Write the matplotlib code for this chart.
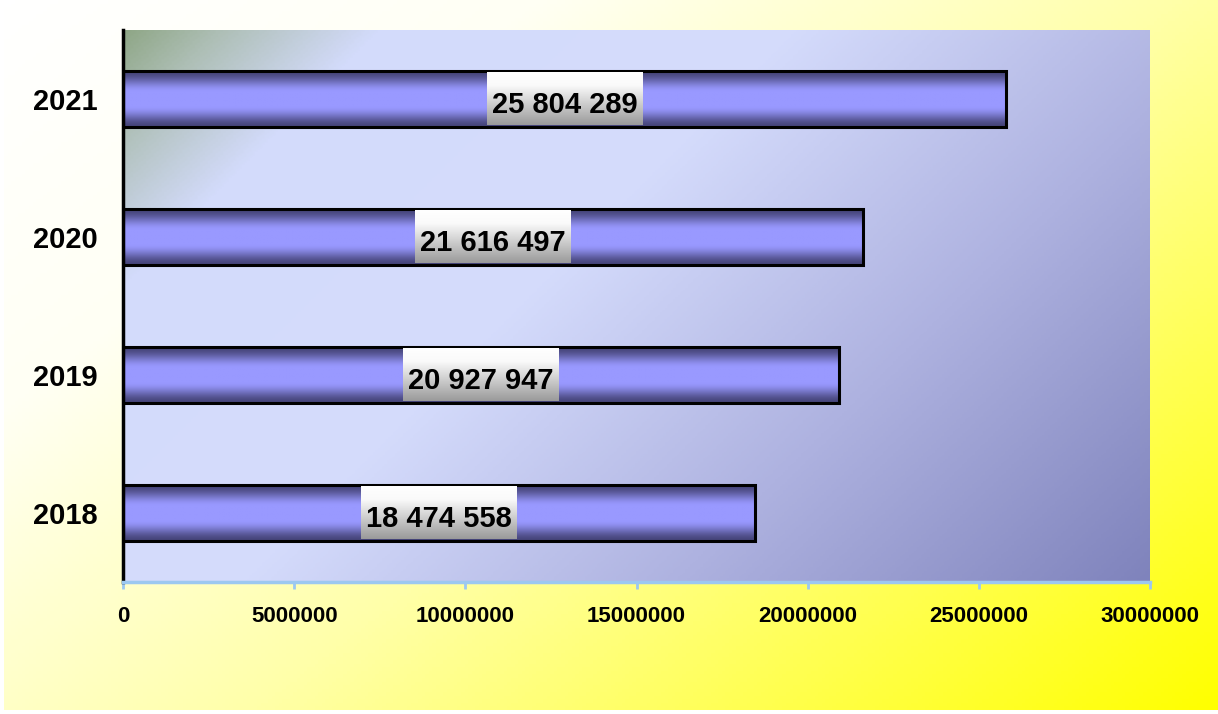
import numpy as np
import matplotlib
matplotlib.use("Agg")
import matplotlib.pyplot as plt
from matplotlib.colors import LinearSegmentedColormap

# ---- data ----
years = ["2018", "2019", "2020", "2021"]
values = [18474558, 20927947, 21616497, 25804289]
value_labels = ["18 474 558", "20 927 947", "21 616 497", "25 804 289"]
xticks = [0, 5000000, 10000000, 15000000, 20000000, 25000000, 30000000]
xtick_labels = ["0", "5000000", "10000000", "15000000", "20000000", "25000000", "30000000"]

W, H, DPI = 1218, 714, 100
fig = plt.figure(figsize=(W / DPI, H / DPI), dpi=DPI, facecolor='white')
plt.rcParams['font.family'] = ['Liberation Sans', 'DejaVu Sans']

# ---- figure background gradient (white -> yellow, diagonal) ----
bx0, by0 = 4 / W, 4 / H
bg = fig.add_axes([bx0, by0, 1 - bx0, 1 - by0], zorder=-10)
bg.set_axis_off()
yy, xx = np.mgrid[0:1:200j, 0:1:340j]
t = (xx * W + yy * H * 1.3) / (W + H * 1.3)
fig_cmap = LinearSegmentedColormap.from_list(
    "figbg", [(0, "#ffffff"), (0.25, "#fffff4"), (0.55, "#ffffa8"), (1.0, "#ffff00")])
bg.imshow(t, cmap=fig_cmap, extent=(0, 1, 0, 1), aspect='auto', origin='upper', vmin=0, vmax=1)
bg.set_xlim(0, 1); bg.set_ylim(0, 1)

# ---- main axes ----
left, right, top, bottom = 123 / W, 1150 / W, 30 / H, 582 / H
ax = fig.add_axes([left, 1 - bottom, right - left, bottom - top])

# plot area gradient
aw, ah = (right - left) * W, (bottom - top) * H
yy, xx = np.mgrid[0:1:300j, 0:1:400j]
t2 = (xx * aw + yy * ah) / (aw + ah)
pa_cmap = LinearSegmentedColormap.from_list(
    "pabg", [(0, "#8fa787"), (0.06, "#aebfb6"), (0.16, "#d3dbfb"), (0.42, "#d5dcfc"),
             (0.7, "#aeb2e0"), (1.0, "#7f83bc")])
ax.imshow(t2, cmap=pa_cmap, extent=(0, 1, 0, 1), aspect='auto', origin='upper',
          transform=ax.transAxes, zorder=0, vmin=0, vmax=1)

# bar gradient (vertical)
s = np.linspace(0, 1, 200)
d = np.clip((1 - np.abs(2 * s - 1)) / 0.75, 0, 1)
prof = d * d * (3 - 2 * d)
bar_cmap = LinearSegmentedColormap.from_list("bar", ["#46457a", "#9999ff"])
bar_img = prof[:, None] * np.ones((1, 4))

box_cmap = LinearSegmentedColormap.from_list(
    "box", [(0, "#ffffff"), (0.25, "#fafafa"), (1.0, "#9a9a9a")])
box_img = np.linspace(0, 1, 200)[:, None] * np.ones((1, 4))

bh = 0.4
ypos = np.arange(len(years))
ax.barh(ypos, values, height=bh, facecolor='none', edgecolor='black',
        linewidth=2.2, zorder=4)
for y, v in zip(ypos, values):
    ax.imshow(bar_img, cmap=bar_cmap, extent=(0, v, y - bh / 2, y + bh / 2),
              aspect='auto', origin='upper', zorder=2, vmin=0, vmax=1)

ax.set_xlim(0, 30000000)
ax.set_ylim(-0.5, len(years) - 0.5)

texts = []
for y, v, lab in zip(ypos, values, value_labels):
    tx = ax.text(v / 2, y - 0.045, lab, ha='center', va='center', fontsize=21,
                 fontweight='bold', color='black', zorder=6)
    texts.append(tx)

fig.canvas.draw()
rend = fig.canvas.get_renderer()
inv = ax.transData.inverted()
for tx, y, v in zip(texts, ypos, values):
    bb = tx.get_window_extent(rend)
    x0 = inv.transform((bb.x0 - 5, 0))[0]
    x1 = inv.transform((bb.x1 + 5, 0))[0]
    ax.imshow(box_img, cmap=box_cmap, extent=(x0, x1, y - bh / 2 + 0.01, y + bh / 2 - 0.01),
              aspect='auto', origin='upper', zorder=5, vmin=0, vmax=1)

ax.set_xlim(0, 30000000)
ax.set_ylim(-0.5, len(years) - 0.5)

ax.set_xticks(xticks)
ax.set_xticklabels(xtick_labels, fontsize=16, fontweight='bold')
ax.set_yticks(ypos)
ax.set_yticklabels(years, fontsize=21, fontweight='bold')
ax.tick_params(axis='y', length=0, pad=18)
ax.tick_params(axis='x', length=5, width=2, color='#9cc8f0', pad=12)
for sp in ['top', 'right']:
    ax.spines[sp].set_visible(False)
ax.spines['left'].set_color('black')
ax.spines['left'].set_linewidth(2.5)
ax.spines['bottom'].set_color('#9cc8f0')
ax.spines['bottom'].set_linewidth(2.5)

fig.savefig("out.png", dpi=DPI, facecolor='white')
